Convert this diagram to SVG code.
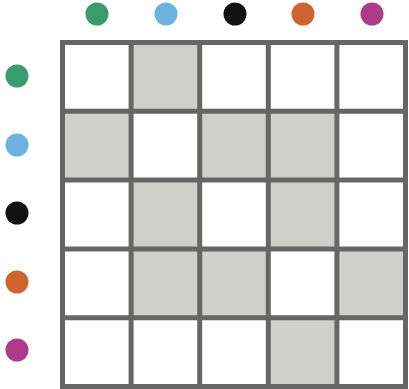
<svg xmlns="http://www.w3.org/2000/svg" width="409" height="389" viewBox="0 0 409 389">
<style>
.w{fill:#ffffff}
.g{fill:#cfcfcb}
.grid{fill:none;stroke:#666666;stroke-width:5}
</style>
<rect width="409" height="389" fill="#ffffff"/>
<g id="dots-top">
<circle cx="97" cy="14" r="11.5" fill="#3a9a70"/>
<circle cx="166" cy="14" r="11.5" fill="#6cb4df"/>
<circle cx="235" cy="14" r="11.5" fill="#111111"/>
<circle cx="303" cy="14" r="11.5" fill="#d0642f"/>
<circle cx="372" cy="14" r="11.5" fill="#ad3b8a"/>
</g>
<g id="dots-left">
<circle cx="17" cy="76" r="11.5" fill="#3a9a70"/>
<circle cx="17" cy="145" r="11.5" fill="#6cb4df"/>
<circle cx="17" cy="213" r="11.5" fill="#111111"/>
<circle cx="17" cy="282" r="11.5" fill="#d0642f"/>
<circle cx="17" cy="350" r="11.5" fill="#ad3b8a"/>
</g>
<g id="cells">
<rect class="g" x="131" y="42.5" width="68.6" height="68.8"/>
<rect class="g" x="62.5" y="111.3" width="68.6" height="68.8"/>
<rect class="g" x="199.7" y="111.3" width="68.6" height="68.8"/>
<rect class="g" x="268.3" y="111.3" width="68.6" height="68.8"/>
<rect class="g" x="131" y="180.1" width="68.6" height="68.8"/>
<rect class="g" x="268.3" y="180.1" width="68.6" height="68.8"/>
<rect class="g" x="131" y="248.9" width="68.6" height="68.8"/>
<rect class="g" x="199.7" y="248.9" width="68.6" height="68.8"/>
<rect class="g" x="336.9" y="248.9" width="68.6" height="68.8"/>
<rect class="g" x="268.3" y="317.7" width="68.6" height="68.8"/>
</g>
<g id="grid" class="grid">
<rect x="62.5" y="42.5" width="343" height="344"/>
<line x1="131.1" y1="42.5" x2="131.1" y2="386.5"/>
<line x1="199.7" y1="42.5" x2="199.7" y2="386.5"/>
<line x1="268.3" y1="42.5" x2="268.3" y2="386.5"/>
<line x1="336.9" y1="42.5" x2="336.9" y2="386.5"/>
<line x1="62.5" y1="111.3" x2="405.5" y2="111.3"/>
<line x1="62.5" y1="180.1" x2="405.5" y2="180.1"/>
<line x1="62.5" y1="248.9" x2="405.5" y2="248.9"/>
<line x1="62.5" y1="317.7" x2="405.5" y2="317.7"/>
</g>
</svg>
